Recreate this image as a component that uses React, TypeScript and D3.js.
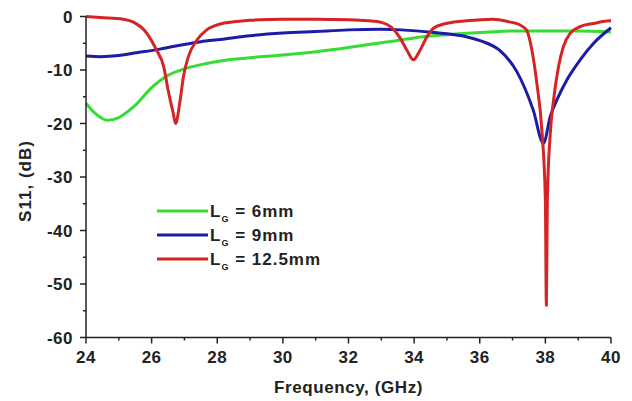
import * as d3 from "d3";

// S11 curves (GHz, dB)
const freqGreen = [24, 24.3, 24.65, 25, 25.13, 25.5, 26, 26.5, 27, 27.5, 28, 28.5, 29, 30, 31, 32, 33, 33.6, 34, 35, 36, 36.6, 37, 38, 39, 40];
const s11Green = [-16.2, -18.2, -19.4, -18.9, -18.4, -16.6, -13.3, -11.0, -9.8, -9.0, -8.4, -8.0, -7.7, -7.2, -6.6, -5.8, -4.9, -4.4, -4.0, -3.4, -3.0, -2.8, -2.7, -2.7, -2.7, -2.9];

const freqBlue = [24, 24.43, 25, 25.4, 26.25, 26.65, 27.5, 28.1, 29, 30, 31, 32, 33, 33.6, 34.6, 35.6, 36.1, 36.6, 37.13, 37.63, 37.94, 38.15, 38.35, 38.65, 39.06, 39.47, 40];
const s11Blue = [-7.4, -7.5, -7.3, -6.9, -6.1, -5.6, -4.7, -4.3, -3.6, -3.1, -2.8, -2.5, -2.4, -2.5, -3.0, -3.8, -4.7, -6.3, -10.3, -17.5, -23.7, -18.7, -15.6, -11.9, -8.1, -5.0, -2.1];

const freqRed = [24, 24.43, 25.13, 25.43, 25.85, 26.15, 26.37, 26.5, 26.66, 26.73, 26.87, 26.97, 27.12, 27.38, 27.68, 28.09, 28.5, 29, 30, 31, 32, 32.6, 33, 33.3, 33.57, 33.78, 33.98, 34.18, 34.39, 34.59, 34.9, 35.6, 36.4, 36.9, 37.2, 37.43, 37.59, 37.74, 37.9, 38.0, 38.03, 38.06, 38.15, 38.25, 38.4, 38.55, 38.76, 39.06, 39.47, 39.97, 40];
const s11Red = [0, -0.2, -0.5, -1.0, -3.1, -6.3, -9.4, -13.7, -18.1, -20.0, -15.6, -11.2, -7.5, -4.4, -2.5, -1.4, -1.0, -0.7, -0.5, -0.5, -0.6, -0.8, -1.1, -2.0, -4.0, -6.3, -8.1, -6.3, -3.8, -2.2, -1.4, -0.8, -0.5, -1.0, -1.5, -2.6, -6.3, -12.5, -21.8, -34.3, -54.0, -34.3, -21.8, -15.6, -9.4, -5.6, -3.1, -1.9, -1.3, -0.8, -0.8];

const seriesNames = ["6mm", "9mm", "12.5mm"];
const seriesColors = ["#33dd33", "#1c1ca6", "#d42424"];

const xTicks = [24, 26, 28, 30, 32, 34, 36, 38, 40];
const yTicks = [0, -10, -20, -30, -40, -50, -60];

export default function App() {
  const width = 632;
  const height = 401;
  const left = 86, right = 611, top = 16.5, bottom = 337.5;

  const x = d3.scaleLinear().domain([24, 40]).range([left, right]);
  const y = d3.scaleLinear().domain([-60, 0]).range([bottom, top]);

  const line = d3
    .line<[number, number]>()
    .x((d) => x(d[0]))
    .y((d) => y(d[1]))
    .curve(d3.curveMonotoneX);

  const series = [
    { f: freqGreen, v: s11Green },
    { f: freqBlue, v: s11Blue },
    { f: freqRed, v: s11Red },
  ];

  const xMinor = d3.range(24, 40.01, 1).filter((t) => t % 2 !== 0);
  const yMinor = d3.range(-55, 0, 10);
  const font = "'Liberation Sans', Arial, sans-serif";
  const axisColor = "#222";

  return (
    <svg
      width={width}
      height={height}
      style={{ position: "absolute", left: 0, top: 0, background: "#fff" }}
      fontFamily={font}
      fontWeight="bold"
    >
      {series.map((s, i) => (
        <path
          key={i}
          d={line(s.f.map((f, j) => [f, s.v[j]] as [number, number])) || ""}
          fill="none"
          stroke={seriesColors[i]}
          strokeWidth={3}
          strokeLinejoin="round"
        />
      ))}

      {/* axes */}
      <line x1={left} x2={left} y1={top} y2={bottom} stroke={axisColor} strokeWidth={1.5} />
      <line x1={left} x2={right} y1={bottom} y2={bottom} stroke={axisColor} strokeWidth={1.5} />
      {yTicks.map((t) => (
        <g key={t}>
          <line x1={left - 6} x2={left} y1={y(t)} y2={y(t)} stroke={axisColor} strokeWidth={1.5} />
          <text x={left - 13} y={y(t)} dy="0.36em" textAnchor="end" fontSize={17} letterSpacing={0.5} fill="#222">
            {t}
          </text>
        </g>
      ))}
      {yMinor.map((t) => (
        <line key={t} x1={left - 3} x2={left} y1={y(t)} y2={y(t)} stroke={axisColor} strokeWidth={1.5} />
      ))}
      {xTicks.map((t) => (
        <g key={t}>
          <line x1={x(t)} x2={x(t)} y1={bottom} y2={bottom + 6} stroke={axisColor} strokeWidth={1.5} />
          <text x={x(t)} y={bottom + 25} textAnchor="middle" fontSize={17} letterSpacing={0.5} fill="#222">
            {t}
          </text>
        </g>
      ))}
      {xMinor.map((t) => (
        <line key={t} x1={x(t)} x2={x(t)} y1={bottom} y2={bottom + 3} stroke={axisColor} strokeWidth={1.5} />
      ))}

      <text x={(left + right) / 2} y={393} textAnchor="middle" fontSize={17} letterSpacing={0.6} fill="#222">
        Frequency, (GHz)
      </text>
      <text
        transform={`translate(31, ${(top + bottom) / 2 + 4}) rotate(-90)`}
        textAnchor="middle"
        fontSize={17}
        letterSpacing={1}
        fill="#222"
      >
        S11, (dB)
      </text>

      {/* legend */}
      {seriesNames.map((n, i) => (
        <g key={n} transform={`translate(157, ${211 + i * 24})`}>
          <line x1={0} x2={51} y1={0} y2={0} stroke={seriesColors[i]} strokeWidth={3} />
          <text x={53} y={6} fontSize={17} letterSpacing={1} fill="#222">
            L
            <tspan fontSize={9} dy={5}>G</tspan>
            <tspan dy={-5}> = {n}</tspan>
          </text>
        </g>
      ))}
    </svg>
  );
}
